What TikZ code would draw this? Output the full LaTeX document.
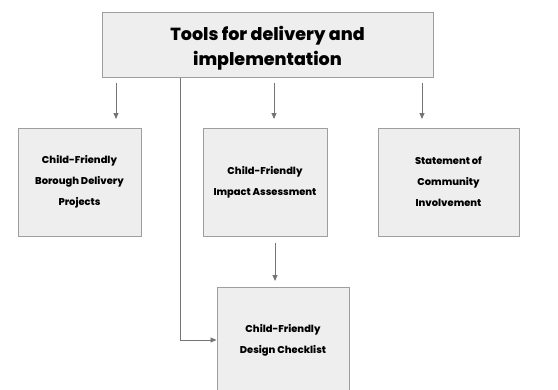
\documentclass[tikz,border=0pt]{standalone}
\usepackage{fontspec}
\setmainfont{Poppins}[BoldFont={Poppins ExtraBold}]
\usepackage{tikz}
\usetikzlibrary{positioning,arrows.meta,calc}

\definecolor{boxfill}{HTML}{EEEEEE}
\definecolor{boxline}{HTML}{9E9E9E}
\definecolor{arrline}{HTML}{757575}

\tikzset{
	toolbox/.style={draw=boxline, fill=boxfill, line width=1pt, align=center, font=\bfseries\fontsize{9.9}{21}\selectfont, inner sep=0pt},
	arr/.style={draw=arrline, line width=0.9pt, -{Triangle[length=6pt,width=5pt]}}
}

\begin{document}
\begin{tikzpicture}[x=1pt,y=-1pt]
		\clip (0,0) rectangle (558,389);
		\useasboundingbox (0,0) rectangle (558,389);
		% top box
		\node [toolbox, minimum width=331pt, minimum height=65pt, font=\bfseries\fontsize{17.5}{25}\selectfont] (tools) at (267.5,44.5) {\rule{0pt}{21pt}Tools for delivery and\\implementation};
		% second row
		\node [toolbox, minimum width=123pt, minimum height=108pt] (borough) at (79.5,182) {Child-Friendly\\Borough Delivery\\Projects};
		\node [toolbox, minimum width=124pt, minimum height=108pt] (impact) at (265,182) {Child-Friendly\\Impact Assessment};
		\node [toolbox, minimum width=141pt, minimum height=108pt] (statement) at (448.5,182) {Statement of\\Community\\Involvement};
		% bottom box
		\node [toolbox, minimum width=132pt, minimum height=106pt] (checklist) at (283,340) {Child-Friendly\\Design Checklist};
		% arrows
		\coordinate (a1s) at (116,83);  \coordinate (a1e) at (116,119);
		\coordinate (a2s) at (274,83);  \coordinate (a2e) at (274,119);
		\coordinate (a3s) at (422,83);  \coordinate (a3e) at (422,119);
		\coordinate (a4s) at (275,243); \coordinate (a4e) at (275,281);
		\draw [arr] (a1s) -- (a1e);
		\draw [arr] (a2s) -- (a2e);
		\draw [arr] (a3s) -- (a3e);
		\draw [arr] (a4s) -- (a4e);
		\draw [arr] ([xshift=79pt]tools.south west) |- (checklist.west);
\end{tikzpicture}
\end{document}
